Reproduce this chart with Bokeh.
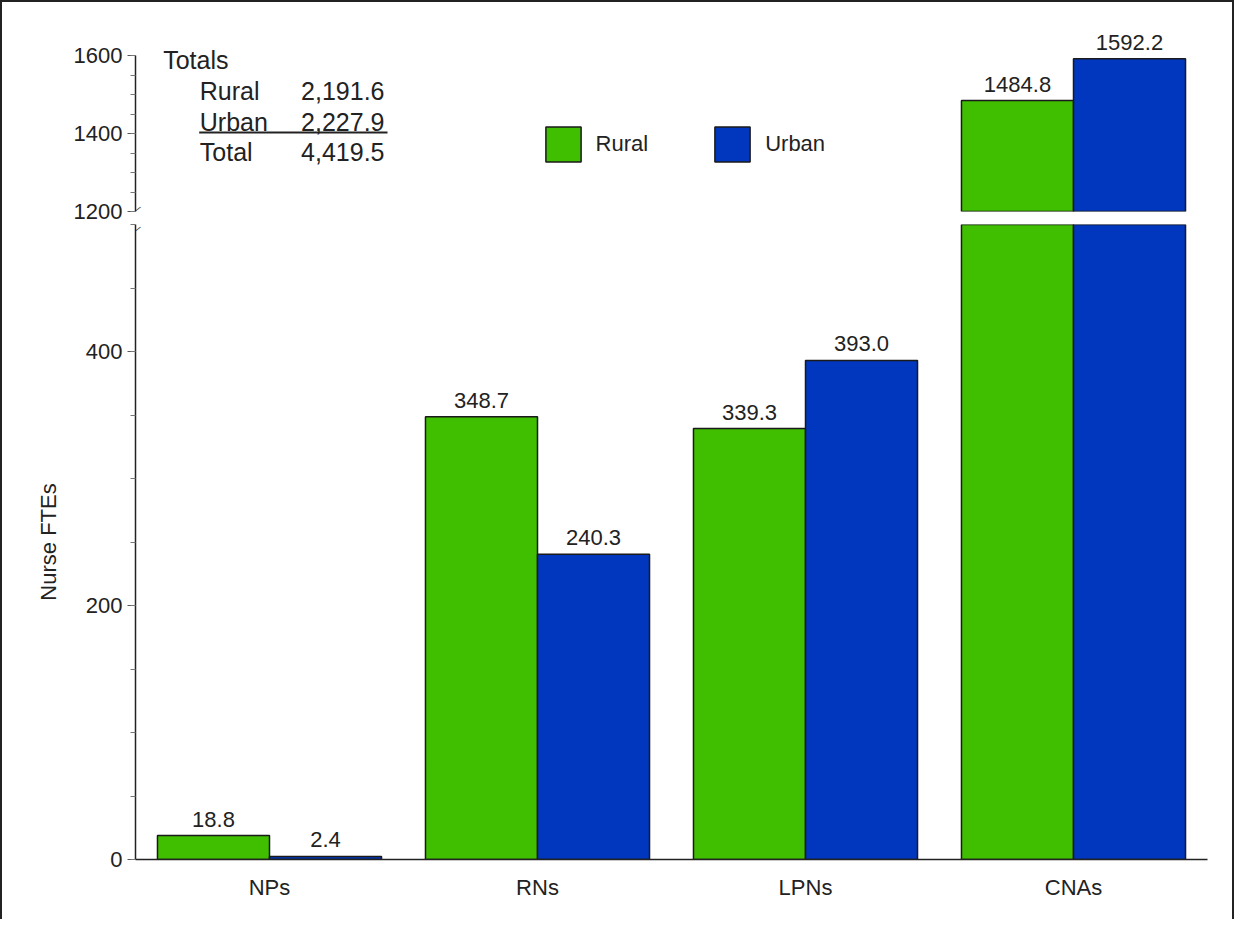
from bokeh.plotting import figure
from bokeh.models import (FactorRange, Range1d, FixedTicker, ColumnDataSource, LabelSet,
                          Label, Legend, LegendItem, BoxAnnotation)
from bokeh.transform import dodge
from bokeh.layouts import column
from bokeh.embed import file_html
from bokeh.resources import INLINE
from bokeh.core.properties import value

# ---------------- data ----------------
categories = ["NPs", "RNs", "LPNs", "CNAs"]
rural = [18.8, 348.7, 339.3, 1484.8]
urban = [2.4, 240.3, 393.0, 1592.2]
series_names = ["Rural", "Urban"]
totals_labels = ["Rural", "Urban", "Total"]
totals_values = ["2,191.6", "2,227.9", "4,419.5"]
lower_ticks = [0, 200, 400]
upper_ticks = [1200, 1400, 1600]
lower_range = (0, 500)
upper_range = (1200, 1600)
y_label = "Nurse FTEs"

# ---------------- style ----------------
FONT = "Liberation Sans"
TXT = "#222222"
colors = ["#40BF00", "#0037BE"]
offsets = [-0.209, 0.209]
BAR_W = 0.418
UPPER_HEADROOM = 70  # extra room above the top axis end so value labels are not clipped

x_range = FactorRange(factors=categories, range_padding=0)


def style_y(ax, ticks, minor, bounds):
    ax.ticker = FixedTicker(ticks=ticks, minor_ticks=minor)
    ax.bounds = bounds
    ax.major_tick_out = 8
    ax.major_tick_in = 0
    ax.minor_tick_out = 5
    ax.minor_tick_in = 0
    ax.axis_line_color = "#222222"
    ax.axis_line_width = 1.5
    ax.major_tick_line_color = "#555555"
    ax.minor_tick_line_color = "#777777"
    ax.major_label_text_font = FONT
    ax.major_label_text_font_size = "22px"
    ax.major_label_text_color = TXT
    ax.major_label_standoff = 5


def base_fig(y_rng, height, mb_top, mb_bottom, x_axis):
    p = figure(x_range=x_range, y_range=Range1d(*y_rng), width=1230, height=height,
               min_border_left=133, min_border_right=25, min_border_top=mb_top,
               min_border_bottom=mb_bottom, toolbar_location=None, output_backend="svg",
               x_axis_location=x_axis)
    p.grid.visible = False
    p.outline_line_color = None
    p.background_fill_color = "white"
    p.border_fill_color = "white"
    return p


# ---------------- upper panel (broken part) ----------------
top = base_fig((upper_range[0], upper_range[1] + UPPER_HEADROOM), 222, 26, 13, None)
style_y(top.yaxis[0], upper_ticks, list(range(upper_range[0], upper_range[1] + 1, 50)),
        upper_range)

# ---------------- lower panel ----------------
bot = base_fig(lower_range, 695, 0, 60, "below")
style_y(bot.yaxis[0], lower_ticks, list(range(lower_range[0], lower_range[1] + 1, 50)),
        lower_range)
bot.yaxis.axis_label = y_label
bot.yaxis.axis_label_text_font = FONT
bot.yaxis.axis_label_text_font_size = "22px"
bot.yaxis.axis_label_text_font_style = "normal"
bot.yaxis.axis_label_text_color = TXT
bot.yaxis.axis_label_standoff = 22
xa = bot.xaxis[0]
xa.major_tick_out = 0
xa.major_tick_in = 0
xa.minor_tick_out = 0
xa.axis_line_color = "#222222"
xa.axis_line_width = 1.5
xa.major_label_text_font = FONT
xa.major_label_text_font_size = "22px"
xa.major_label_text_color = TXT
xa.major_label_standoff = 15

legend_renderers = []
for name, vals, col, off in zip(series_names, [rural, urban], colors, offsets):
    # lower panel: all bars (clipped at the break), labels for values inside range
    src_lo = ColumnDataSource(dict(cat=categories, val=vals))
    bot.vbar(x=dodge("cat", off, range=x_range), top="val", bottom=0, width=BAR_W,
             source=src_lo, fill_color=col, line_color="#1a1a1a", line_width=1.5)
    keep_lo = [i for i, v in enumerate(vals) if v <= lower_range[1]]
    lab_lo = ColumnDataSource(dict(cat=[categories[i] for i in keep_lo],
                                   val=[vals[i] for i in keep_lo],
                                   txt=[f"{vals[i]:.1f}" for i in keep_lo]))
    bot.add_layout(LabelSet(x=dodge("cat", off, range=x_range), y="val", text="txt",
                            source=lab_lo, y_offset=9, text_align="center",
                            text_baseline="alphabetic", text_font=value(FONT),
                            text_font_size="22px", text_color=TXT))
    # upper panel: only bars that reach above the break
    keep_hi = [i for i, v in enumerate(vals) if v > upper_range[0]]
    src_hi = ColumnDataSource(dict(cat=[categories[i] for i in keep_hi],
                                   val=[vals[i] for i in keep_hi],
                                   txt=[f"{vals[i]:.1f}" for i in keep_hi]))
    r = top.vbar(x=dodge("cat", off, range=x_range), top="val", bottom=upper_range[0],
                 width=BAR_W, source=src_hi, fill_color=col, line_color="#1a1a1a",
                 line_width=1.5)
    legend_renderers.append(r)
    top.add_layout(LabelSet(x=dodge("cat", off, range=x_range), y="val", text="txt",
                            source=src_hi, y_offset=9, text_align="center",
                            text_baseline="alphabetic", text_font=value(FONT),
                            text_font_size="22px", text_color=TXT))

legend = Legend(items=[LegendItem(label=n, renderers=[r]) for n, r in zip(series_names, legend_renderers)],
                location=(405.6, 44.6), orientation="horizontal", border_line_color=None,
                background_fill_alpha=0, padding=0, margin=0, spacing=62, label_standoff=11,
                glyph_width=44, glyph_height=44, label_text_font=FONT,
                label_text_font_size="22px", label_text_color=TXT)
top.add_layout(legend)

# axis break marks: a slash at the lower end of the upper axis and at the top of the lower axis
top.add_layout(Label(x=0, y=upper_range[0], x_units="screen", y_units="data", y_offset=2,
                     text="\u2014", angle=0.68, text_align="center", text_baseline="middle",
                     text_font=FONT, text_font_size="11px", text_color="#222222"))
bot.add_layout(Label(x=0, y=lower_range[1], x_units="screen", y_units="data", y_offset=-5,
                     text="\u2014", angle=0.68, text_align="center", text_baseline="middle",
                     text_font=FONT, text_font_size="11px", text_color="#222222"))

# totals block (positions in screen px from the upper panel's bottom-left corner)
top.add_layout(Label(x=27.7, y=151.5, x_units="screen", y_units="screen", text="Totals",
                     text_font=FONT, text_font_size="25px", text_color=TXT,
                     text_baseline="middle"))
row_y = [121, 90, 60]
for lab, val, yy in zip(totals_labels, totals_values, row_y):
    top.add_layout(Label(x=64.3, y=yy, x_units="screen", y_units="screen", text=lab,
                         text_font=FONT, text_font_size="25px", text_color=TXT,
                         text_baseline="middle"))
    top.add_layout(Label(x=249, y=yy, x_units="screen", y_units="screen", text=val,
                         text_font=FONT, text_font_size="25px", text_color=TXT,
                         text_baseline="middle", text_align="right"))
top.add_layout(BoxAnnotation(left=63.7, right=252, bottom=78, top=80, left_units="screen",
                             right_units="screen", bottom_units="screen", top_units="screen",
                             fill_color="#222222", fill_alpha=1, line_color=None))

layout = column(top, bot, styles={"border-left": "2px solid #222", "border-top": "2px solid #222",
                                  "border-right": "2px solid #222"})

open("out.html", "w").write(file_html(layout, INLINE))
